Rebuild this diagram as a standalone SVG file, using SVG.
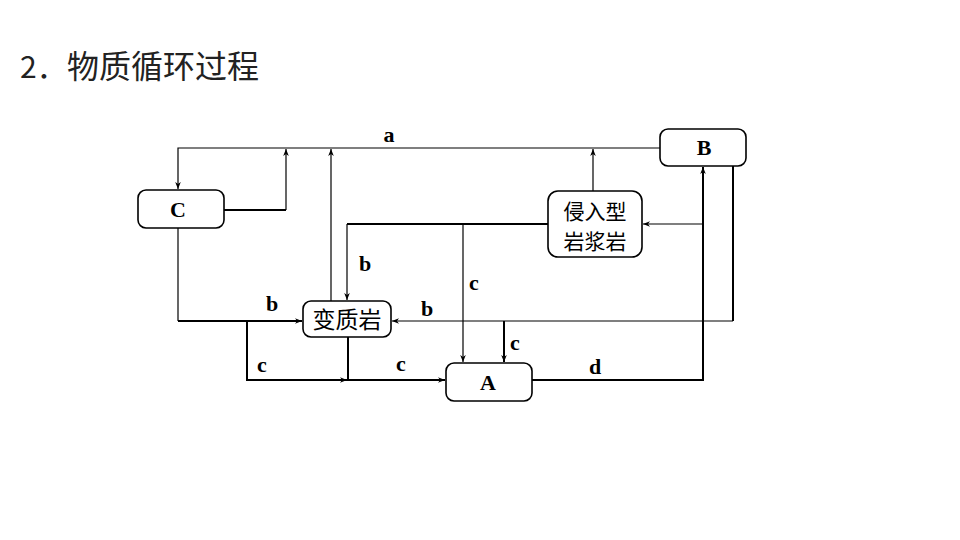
<svg xmlns="http://www.w3.org/2000/svg" width="960" height="540" viewBox="0 0 960 540">
<style>
.box{fill:#fff;stroke:#000;stroke-width:1.6}
.t{stroke:#000;stroke-width:1.2;fill:none}
.k{stroke:#000;stroke-width:2;fill:none}
.lbl{font-family:"Liberation Serif",serif;font-weight:bold;font-size:22px;fill:#000;text-anchor:middle}
.cn{font-family:"Noto Sans CJK SC",sans-serif;font-size:23px;fill:#000;text-anchor:middle}
</style>
<defs>
<marker id="ar" viewBox="0 0 10 10" refX="10" refY="5" markerWidth="7" markerHeight="7" orient="auto" markerUnits="userSpaceOnUse">
<path d="M0,1 L10,5 L0,9 L3,5 Z" fill="#000"/>
</marker>
</defs>
<rect width="960" height="540" fill="#fff"/>
<g id="title" font-family="'Noto Sans CJK SC',sans-serif" fill="#222">
<text x="20" y="78" font-size="30">2．</text>
<text x="67" y="78" font-size="32">物质循环过程</text>
</g>
<g id="connectors">
<path class="t" d="M660,148 H178 V189" marker-end="url(#ar)"/>
<path class="k" d="M224,210 H286"/>
<path class="t" d="M286,210 V149" marker-end="url(#ar)"/>
<path class="t" d="M331,301 V149" marker-end="url(#ar)"/>
<path class="t" d="M593,191 V149" marker-end="url(#ar)"/>
<path class="k" d="M548,224 H347"/>
<path class="t" d="M347,224 V300" marker-end="url(#ar)"/>
<path class="t" d="M463,224 V362" marker-end="url(#ar)"/>
<path class="k" d="M532,380 H703 V167" marker-end="url(#ar)"/>
<path class="t" d="M703,224 H643" marker-end="url(#ar)"/>
<path class="k" d="M733,166 V321"/>
<path class="t" d="M733,321 H392" marker-end="url(#ar)"/>
<path class="k" d="M504,321 V362" marker-end="url(#ar)"/>
<path class="t" d="M178,228 V321"/>
<path class="k" d="M178,321 H302" marker-end="url(#ar)"/>
<path class="k" d="M247,321 V380 H347" marker-end="url(#ar)"/>
<path class="k" d="M348,337 V380 H445" marker-end="url(#ar)"/>
</g>
<g id="labels">
<text class="lbl" x="389" y="142">a</text>
<text class="lbl" x="365" y="271">b</text>
<text class="lbl" x="474" y="290">c</text>
<text class="lbl" x="272" y="311">b</text>
<text class="lbl" x="427" y="316">b</text>
<text class="lbl" x="515" y="350">c</text>
<text class="lbl" x="262" y="372">c</text>
<text class="lbl" x="401" y="371">c</text>
<text class="lbl" x="595" y="374">d</text>
</g>
<g id="C">
<rect class="box" x="138" y="190" width="86" height="38" rx="8"/>
<text class="lbl" x="178" y="217">C</text>
</g>
<g id="B">
<rect class="box" x="660" y="129" width="86" height="37" rx="8"/>
<text class="lbl" x="704" y="155">B</text>
</g>
<g id="qinruxing">
<rect class="box" x="548" y="191" width="94" height="66" rx="10"/>
<text class="cn" x="595" y="219" style="font-size:21px">侵入型</text>
<text class="cn" x="595" y="249" style="font-size:21px">岩浆岩</text>
</g>
<g id="bianzhiyan">
<rect class="box" x="303" y="301" width="88" height="36" rx="8"/>
<text class="cn" x="347" y="328">变质岩</text>
</g>
<g id="A">
<rect class="box" x="446" y="363" width="86" height="38" rx="8"/>
<text class="lbl" x="488" y="390">A</text>
</g>
</svg>
